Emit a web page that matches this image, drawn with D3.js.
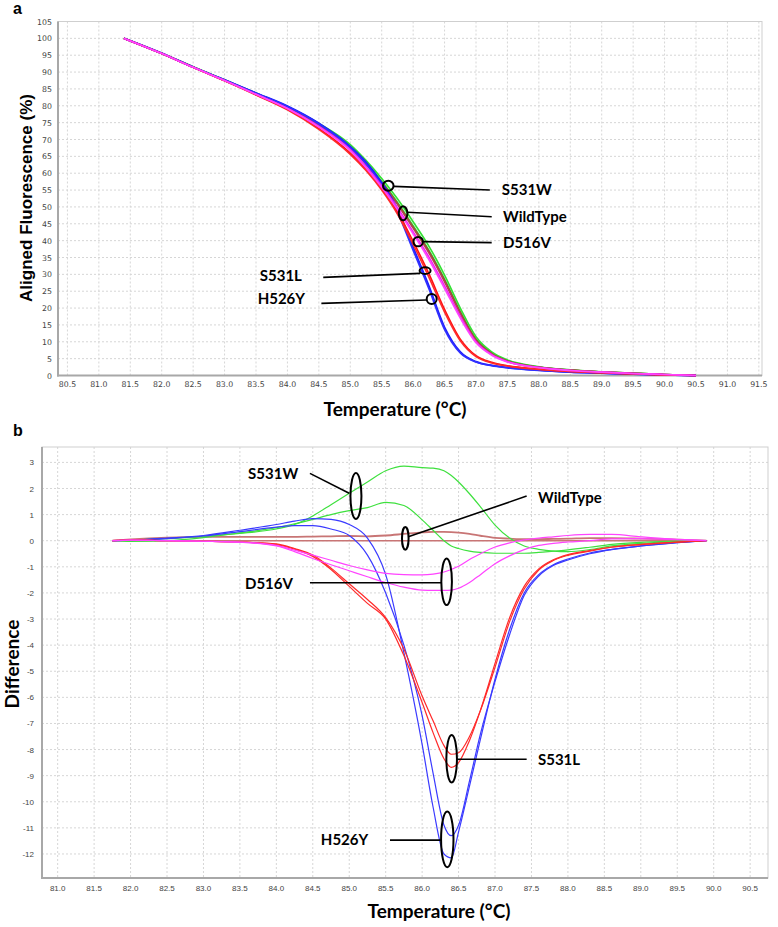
<!DOCTYPE html>
<html><head><meta charset="utf-8">
<script src="https://cdn.jsdelivr.net/npm/d3@7"></script>
<style>body{margin:0;background:#fff}</style>
</head><body><svg id="c" width="778" height="927" xmlns="http://www.w3.org/2000/svg"></svg>
<script>
// ---------- DATA: panel a (aligned fluorescence, %) ----------
const meltTemps = [81.4, 82.0, 82.5, 83.0, 83.5, 84.0, 84.5, 85.0, 85.25, 85.5, 85.75, 86.0, 86.25, 86.5, 86.75, 87.0, 87.25, 87.5, 88.0, 88.5, 89.0, 89.5, 90.0, 90.5];
const meltS531W_1 = [100, 95.6, 91.6, 87.7, 83.8, 79.7, 74.8, 68.5, 63.8, 58.4, 52.4, 45.6, 38.4, 29.8, 20.0, 11.5, 7.0, 4.6, 2.6, 1.7, 1.1, 0.7, 0.3, 0];
const meltS531W_2 = [100, 95.5, 91.5, 87.6, 83.6, 79.5, 74.5, 68.0, 63.2, 57.6, 51.4, 44.4, 37.2, 28.6, 19.0, 10.8, 6.6, 4.4, 2.5, 1.6, 1.1, 0.7, 0.3, 0];
const meltWild_1 = [100, 95.5, 91.4, 87.5, 83.5, 79.4, 74.3, 67.7, 62.9, 57.3, 51.0, 44.0, 36.8, 28.2, 18.7, 10.6, 6.5, 4.3, 2.5, 1.6, 1.1, 0.7, 0.3, 0];
const meltWild_2 = [100, 95.5, 91.4, 87.5, 83.5, 79.4, 74.2, 67.5, 62.7, 57.1, 50.8, 43.7, 36.4, 27.8, 18.3, 10.4, 6.4, 4.2, 2.4, 1.6, 1.0, 0.6, 0.3, 0];
const meltD516V_1 = [100, 95.5, 91.4, 87.5, 83.4, 79.2, 73.9, 67.0, 62.0, 56.3, 49.8, 42.6, 35.2, 26.6, 17.6, 10.0, 6.2, 4.1, 2.4, 1.5, 1.0, 0.6, 0.3, 0];
const meltD516V_2 = [100, 95.5, 91.4, 87.5, 83.4, 79.2, 73.7, 66.7, 61.6, 55.8, 49.2, 42.0, 34.4, 25.8, 17.0, 9.7, 6.0, 4.0, 2.3, 1.5, 1.0, 0.6, 0.3, 0];
const meltS531L_1 = [100, 95.5, 91.4, 87.4, 83.3, 79.0, 73.3, 66.0, 61.3, 55.6, 48.6, 39.8, 30.2, 19.6, 10.8, 5.9, 3.9, 2.9, 1.9, 1.2, 0.8, 0.5, 0.2, 0];
const meltS531L_2 = [100, 95.5, 91.4, 87.4, 83.2, 78.8, 73.0, 65.6, 60.8, 55.0, 47.9, 38.9, 29.2, 18.8, 10.3, 5.6, 3.7, 2.8, 1.8, 1.2, 0.8, 0.5, 0.2, 0];
const meltH526Y_1 = [100, 95.6, 91.5, 87.7, 83.8, 79.9, 74.8, 67.9, 63.3, 57.2, 49.4, 38.0, 26.6, 14.3, 7.0, 4.1, 3.0, 2.4, 1.6, 1.0, 0.7, 0.4, 0.2, 0];
const meltH526Y_2 = [100, 95.5, 91.5, 87.6, 83.7, 79.8, 74.6, 67.6, 62.8, 56.5, 48.5, 37.2, 25.8, 13.7, 6.7, 4.0, 2.9, 2.3, 1.5, 1.0, 0.7, 0.4, 0.2, 0];

// ---------- DATA: panel b (difference) ----------
const diffTemps = [81.75, 82.0, 82.5, 83.0, 83.5, 84.0, 84.25, 84.5, 84.75, 85.0, 85.25, 85.5, 85.75, 86.0, 86.15, 86.3, 86.4, 86.5, 86.65, 86.8, 87.0, 87.2, 87.4, 87.6, 87.8, 88.0, 88.3, 88.6, 89.0, 89.4, 89.9];
const diffWild_1 = [0, 0, 0, 0, 0, 0, 0, 0, 0, 0, 0, 0, 0, 0, 0, 0, 0, 0, 0, 0, 0, 0, 0, 0, 0, 0, 0, 0, 0, 0, 0];
const diffWild_2 = [0, 0.05, 0.12, 0.15, 0.15, 0.15, 0.15, 0.16, 0.17, 0.18, 0.17, 0.2, 0.26, 0.32, 0.34, 0.34, 0.33, 0.31, 0.26, 0.19, 0.11, 0.08, 0.06, 0.06, 0.07, 0.08, 0.1, 0.1, 0.08, 0.05, 0];
const diffS531W_1 = [0, 0.02, 0.08, 0.17, 0.28, 0.45, 0.62, 0.95, 1.38, 1.82, 2.25, 2.68, 2.86, 2.8, 2.78, 2.68, 2.5, 2.25, 1.8, 1.3, 0.6, 0.1, -0.2, -0.33, -0.4, -0.42, -0.34, -0.2, -0.1, -0.04, 0];
const diffS531W_2 = [0, -0.03, 0.0, 0.12, 0.3, 0.5, 0.65, 0.82, 1.0, 1.15, 1.27, 1.47, 1.35, 0.8, 0.4, 0.0, -0.2, -0.3, -0.4, -0.45, -0.48, -0.48, -0.48, -0.45, -0.4, -0.35, -0.25, -0.14, -0.06, -0.02, 0];
const diffH526Y_1 = [0, 0.02, 0.1, 0.2, 0.4, 0.62, 0.75, 0.85, 0.82, 0.62, 0.1, -1.3, -4.3, -7.8, -10.2, -12.0, -12.15, -11.15, -9.4, -7.6, -5.3, -3.4, -2.0, -1.3, -0.92, -0.7, -0.47, -0.33, -0.2, -0.1, 0];
const diffH526Y_2 = [0, 0.02, 0.08, 0.18, 0.35, 0.52, 0.58, 0.58, 0.45, 0.2, -0.55, -2.0, -4.0, -6.7, -8.9, -10.9, -11.3, -10.9, -9.2, -7.4, -5.4, -3.6, -2.1, -1.35, -0.95, -0.74, -0.5, -0.34, -0.2, -0.1, 0];
const diffS531L_1 = [0, 0.03, 0.0, -0.02, -0.05, -0.12, -0.3, -0.55, -1.05, -1.65, -2.25, -2.95, -4.15, -5.95, -6.9, -7.85, -8.18, -8.12, -7.5, -6.5, -4.85, -3.1, -1.85, -1.12, -0.76, -0.56, -0.4, -0.25, -0.15, -0.07, 0];
const diffS531L_2 = [0, 0.03, 0.0, -0.02, -0.05, -0.15, -0.32, -0.6, -1.1, -1.75, -2.4, -3.0, -4.4, -6.2, -7.35, -8.35, -8.68, -8.5, -7.65, -6.5, -4.7, -2.95, -1.75, -1.08, -0.73, -0.53, -0.38, -0.24, -0.14, -0.07, 0];
const diffD516V_1 = [0, 0.02, 0.0, -0.02, -0.05, -0.18, -0.36, -0.55, -0.75, -0.95, -1.12, -1.25, -1.3, -1.31, -1.28, -1.2, -1.1, -0.98, -0.72, -0.5, -0.24, -0.08, 0.03, 0.1, 0.15, 0.2, 0.24, 0.24, 0.15, 0.07, 0];
const diffD516V_2 = [0, 0.02, 0.0, -0.02, -0.06, -0.2, -0.42, -0.68, -0.92, -1.15, -1.38, -1.6, -1.78, -1.89, -1.9, -1.9, -1.89, -1.82, -1.6, -1.3, -0.88, -0.58, -0.34, -0.18, -0.1, -0.05, 0.0, 0.07, 0.08, 0.05, 0];

// ---------- tick labels ----------
const topXTicks = [80.5, 81.0, 81.5, 82.0, 82.5, 83.0, 83.5, 84.0, 84.5, 85.0, 85.5, 86.0, 86.5, 87.0, 87.5, 88.0, 88.5, 89.0, 89.5, 90.0, 90.5, 91.0, 91.5];
const topYTicks = [0, 5, 10, 15, 20, 25, 30, 35, 40, 45, 50, 55, 60, 65, 70, 75, 80, 85, 90, 95, 100, 105];
const botXTicks = [81.0, 81.5, 82.0, 82.5, 83.0, 83.5, 84.0, 84.5, 85.0, 85.5, 86.0, 86.5, 87.0, 87.5, 88.0, 88.5, 89.0, 89.5, 90.0, 90.5];
const botYTicks = [3, 2, 1, 0, -1, -2, -3, -4, -5, -6, -7, -8, -9, -10, -11, -12];

// ---------- drawing ----------
const svg = d3.select('#c');
const TITLE = "Lato, 'Open Sans', sans-serif";
const ARIAL = "'Liberation Sans', Arial, sans-serif";

function panel(o) {
  const g = svg.append('g');
  const x = d3.scaleLinear().domain(o.xd).range(o.xr);
  const y = d3.scaleLinear().domain(o.yd).range(o.yr);
  const [x0, x1] = o.xr, [yb, yt] = o.yr;
  // grid
  g.append('g').selectAll('line').data(o.xt).join('line')
    .attr('x1', d => x(d)).attr('x2', d => x(d)).attr('y1', yt).attr('y2', yb)
    .attr('stroke', '#d6d6d6').attr('stroke-dasharray', '2,2').attr('stroke-width', 1);
  g.append('g').selectAll('line').data(o.yt).join('line')
    .attr('x1', x0).attr('x2', x1).attr('y1', d => y(d)).attr('y2', d => y(d))
    .attr('stroke', '#d6d6d6').attr('stroke-dasharray', '2,2').attr('stroke-width', 1);
  // frame
  g.append('rect').attr('x', x0).attr('y', yt).attr('width', x1 - x0).attr('height', yb - yt)
    .attr('fill', 'none').attr('stroke', '#cfcfcf').attr('stroke-width', 1);
  g.append('line').attr('x1', x0).attr('x2', x0).attr('y1', yt).attr('y2', yb + 1)
    .attr('stroke', '#a8a8a8').attr('stroke-width', 2);
  g.append('line').attr('x1', x0 - 1).attr('x2', x1).attr('y1', yb).attr('y2', yb)
    .attr('stroke', '#a8a8a8').attr('stroke-width', 2);
  // tick labels
  g.append('g').selectAll('text').data(o.xt).join('text')
    .attr('x', d => x(d)).attr('y', yb + o.xlabOff).attr('text-anchor', 'middle')
    .attr('font-family', o.tickFont).attr('font-size', o.tickSize).attr('fill', '#444')
    .text(d => d.toFixed(1));
  g.append('g').selectAll('text').data(o.yt).join('text')
    .attr('x', x0 - o.ylabOff).attr('y', d => y(d) + 3).attr('text-anchor', 'end')
    .attr('font-family', o.tickFont).attr('font-size', o.tickSize).attr('fill', '#444')
    .text(d => d);
  // curves
  const line = d3.line().x(d => x(d[0])).y(d => y(d[1])).curve(d3.curveMonotoneX);
  o.series.forEach(s => {
    g.append('path').datum(o.temps.map((t, i) => [t, s.v[i]]))
      .attr('d', line).attr('fill', 'none').attr('stroke', s.c)
      .attr('stroke-width', s.w).attr('stroke-linejoin', 'round');
  });
  // annotations
  o.notes.forEach(n => {
    g.append('line').attr('x1', x(n.l[0])).attr('y1', y(n.l[1])).attr('x2', x(n.l[2])).attr('y2', y(n.l[3]))
      .attr('stroke', '#000').attr('stroke-width', 1.6);
    g.append('ellipse').attr('cx', x(n.e[0])).attr('cy', y(n.e[1])).attr('rx', n.rx).attr('ry', n.ry)
      .attr('fill', 'none').attr('stroke', '#000').attr('stroke-width', 2);
    g.append('text').attr('x', x(n.t[0])).attr('y', y(n.t[1])).attr('text-anchor', n.anchor)
      .attr('font-family', TITLE).attr('font-weight', 'bold').attr('font-size', 15).attr('fill', '#000')
      .text(n.label);
  });
  return {x, y};
}

// Panel a
panel({
  xd: [80.35, 91.55], xr: [58, 762], yd: [0, 105], yr: [375.5, 21.5],
  xt: topXTicks, yt: topYTicks, temps: meltTemps,
  tickFont: "'DejaVu Sans', sans-serif", tickSize: 7.8, xlabOff: 11, ylabOff: 6,
  series: [
    {v: meltS531W_1, c: '#33e033', w: 1.6}, {v: meltS531W_2, c: '#33e033', w: 1.6},
    {v: meltWild_1, c: '#9c3a3a', w: 1.6}, {v: meltWild_2, c: '#b04848', w: 1.6},
    {v: meltH526Y_1, c: '#1a1aff', w: 1.8}, {v: meltH526Y_2, c: '#3030ff', w: 1.8},
    {v: meltS531L_1, c: '#ff1010', w: 1.6}, {v: meltS531L_2, c: '#ff2a2a', w: 1.6},
    {v: meltD516V_1, c: '#ee22ee', w: 1.6}, {v: meltD516V_2, c: '#ff44ff', w: 1.6}
  ],
  notes: [
    {label: 'S531W', e: [85.604, 56.3], rx: 5.3, ry: 5.0, l: [85.69, 56.1, 87.22, 55.0], t: [87.41, 53.4], anchor: 'start'},
    {label: 'WildType', e: [85.84, 48.1], rx: 4.3, ry: 7, l: [85.91, 48.4, 87.25, 47.1], t: [87.43, 45.4], anchor: 'start'},
    {label: 'D516V', e: [86.08, 39.7], rx: 4.7, ry: 4.7, l: [86.155, 39.7, 87.25, 39.4], t: [87.43, 37.7], anchor: 'start'},
    {label: 'S531L', e: [86.19, 31.1], rx: 5.5, ry: 3.3, l: [86.11, 30.3, 84.57, 29.1], t: [84.23, 27.9], anchor: 'end'},
    {label: 'H526Y', e: [86.295, 22.7], rx: 5, ry: 5, l: [86.215, 22.4, 84.54, 21.4], t: [84.28, 21.1], anchor: 'end'}
  ]
});

// Panel b
panel({
  xd: [80.785, 90.745], xr: [42, 768], yd: [-12.92, 3.59], yr: [878, 447],
  xt: botXTicks, yt: botYTicks, temps: diffTemps,
  tickFont: ARIAL, tickSize: 8, xlabOff: 13, ylabOff: 8,
  series: [
    {v: diffWild_1, c: '#c87575', w: 1.6}, {v: diffWild_2, c: '#c87575', w: 1.8},
    {v: diffS531W_1, c: '#3ee03e', w: 1.2}, {v: diffS531W_2, c: '#3ee03e', w: 1.2},
    {v: diffH526Y_1, c: '#3a3aff', w: 1.2}, {v: diffH526Y_2, c: '#3a3aff', w: 1.2},
    {v: diffS531L_1, c: '#ff2a2a', w: 1.2}, {v: diffS531L_2, c: '#ff2a2a', w: 1.2},
    {v: diffD516V_1, c: '#ff44ff', w: 1.2}, {v: diffD516V_2, c: '#ff44ff', w: 1.2}
  ],
  notes: [
    {label: 'S531W', e: [85.092, 1.71], rx: 5.5, ry: 23, l: [84.461, 2.58, 84.999, 1.82], t: [84.3, 2.36], anchor: 'end'},
    {label: 'WildType', e: [85.769, 0.09], rx: 3.3, ry: 11.3, l: [87.434, 1.71, 85.81, 0.15], t: [87.589, 1.44], anchor: 'start'},
    {label: 'D516V', e: [86.336, -1.57], rx: 5.3, ry: 23.3, l: [84.461, -1.61, 86.264, -1.61], t: [84.228, -1.85], anchor: 'end'},
    {label: 'S531L', e: [86.405, -8.35], rx: 5.3, ry: 23.7, l: [86.48, -8.37, 87.434, -8.37], t: [87.589, -8.6], anchor: 'start'},
    {label: 'H526Y', e: [86.345, -11.44], rx: 6.2, ry: 27.8, l: [85.559, -11.47, 86.26, -11.47], t: [85.261, -11.66], anchor: 'end'}
  ]
});

// titles
svg.append('text').attr('x', 13).attr('y', 14).attr('font-family', ARIAL).attr('font-weight', 'bold')
  .attr('font-size', 16).text('a');
svg.append('text').attr('x', 13).attr('y', 436).attr('font-family', ARIAL).attr('font-weight', 'bold')
  .attr('font-size', 16).text('b');
svg.append('text').attr('transform', 'translate(31.5,198) rotate(-90)').attr('text-anchor', 'middle')
  .attr('font-family', ARIAL).attr('font-weight', 'bold').attr('font-size', 17)
  .text('Aligned Fluorescence (%)');
svg.append('text').attr('x', 395).attr('y', 416).attr('text-anchor', 'middle')
  .attr('font-family', TITLE).attr('font-weight', 'bold').attr('font-size', 19)
  .text('Temperature (°C)');
svg.append('text').attr('x', 439).attr('y', 918).attr('text-anchor', 'middle')
  .attr('font-family', TITLE).attr('font-weight', 'bold').attr('font-size', 19)
  .text('Temperature (°C)');
svg.append('text').attr('transform', 'translate(19,664) rotate(-90)').attr('text-anchor', 'middle')
  .attr('font-family', TITLE).attr('font-weight', 'bold').attr('font-size', 19)
  .text('Difference');
</script></body></html>
